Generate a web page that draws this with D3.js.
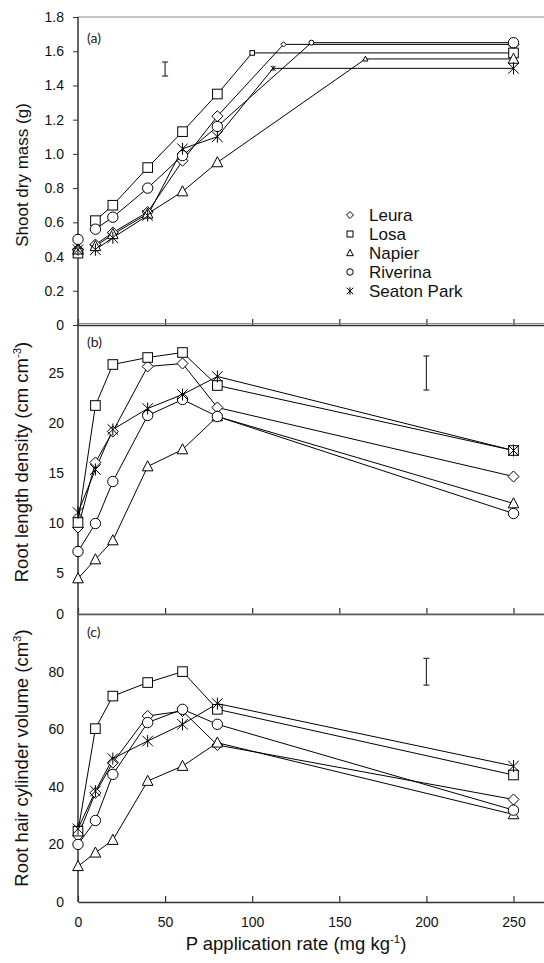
<!DOCTYPE html>
<html lang="en">
<head>
<meta charset="UTF-8">
<title>Cultivar response to P</title>
<script src="https://d3js.org/d3.v7.min.js"></script>
<style>
  html, body {
    margin: 0;
    padding: 0;
    background: #fff;
    overflow: hidden;
  }
  svg {
    display: block;
    font-family: "Liberation Sans", Arial, sans-serif;
  }
</style>
</head>
<body>
<svg width="544" height="963"></svg>
<script>
// ---- data ----
const doses = [0, 10, 20, 40, 60, 80, 250];
const cultivars = ["Leura", "Losa", "Napier", "Riverina", "Seaton Park"];
const shapes = ["diamond", "square", "triangle", "circle", "star"];

// (a) shoot dry mass (g)
const shootLeura    = [0.44, 0.47, 0.54, 0.66, 0.96, 1.22, 1.64];
const shootLosa     = [0.42, 0.61, 0.70, 0.92, 1.13, 1.35, 1.59];
const shootNapier   = [0.44, 0.46, 0.53, 0.65, 0.78, 0.95, 1.555];
const shootRiverina = [0.50, 0.56, 0.63, 0.80, 0.99, 1.16, 1.65];
const shootSeaton   = [0.44, 0.44, 0.51, 0.64, 1.03, 1.10, 1.50];
// break point of the fitted line (P rate where the plateau starts)
const shootBreak    = [118, 100, 165, 134, 112];

// (b) root length density (cm cm-3)
const rldLeura    = [9.6, 16.1, 19.2, 25.7, 26.0, 21.6, 14.7];
const rldLosa     = [10.1, 21.8, 25.9, 26.6, 27.1, 23.8, 17.3];
const rldNapier   = [4.5, 6.4, 8.3, 15.7, 17.4, 20.7, 12.0];
const rldRiverina = [7.2, 10.0, 14.2, 20.8, 22.4, 20.7, 11.0];
const rldSeaton   = [11.1, 15.4, 19.4, 21.5, 22.9, 24.7, 17.3];

// (c) root hair cylinder volume (cm3)
const rhcLeura    = [23.0, 37.9, 48.4, 64.6, 66.3, 54.5, 35.6];
const rhcLosa     = [24.6, 60.2, 71.5, 76.2, 80.0, 66.9, 44.1];
const rhcNapier   = [12.4, 17.1, 21.5, 42.0, 47.2, 55.3, 30.4];
const rhcRiverina = [20.0, 28.3, 44.3, 62.3, 66.9, 61.7, 31.9];
const rhcSeaton   = [25.4, 38.5, 49.8, 55.9, 61.7, 68.9, 47.2];

// LSD bars: P rate, low, high
const lsdX    = [50, 200, 200];
const lsdLow  = [1.455, 23.35, 75.3];
const lsdHigh = [1.537, 26.75, 84.6];

const xTicks = [0, 50, 100, 150, 200, 250];
const shootTicks = [0, 0.2, 0.4, 0.6, 0.8, 1.0, 1.2, 1.4, 1.6, 1.8];
const rldTicks = [5, 10, 15, 20, 25];
const rhcTicks = [0, 20, 40, 60, 80, 100];

// ---- layout ----
const svg = d3.select("svg");
const x = d3.scaleLinear().domain([0, 300]).range([78, 600.6]);
const rightEdge = 544;

const panels = [
  {
    label: "(a)", labelY: 43,
    y: d3.scaleLinear().domain([0, 1.8]).range([325, 17]),
    bottom: 325, ticks: shootTicks, tickLen: 5,
    fmt: d => d === 0 ? "0" : d.toFixed(1),
    series: [shootLeura, shootLosa, shootNapier, shootRiverina, shootSeaton],
    plateau: true,
    title: ["Shoot dry mass (g)"], titleY: 175, titleSize: 17
  },
  {
    label: "(b)", labelY: 347,
    y: d3.scaleLinear().domain([0, 30]).range([623.5, 323.5]),
    bottom: 614, ticks: rldTicks, tickLen: 0,
    fmt: d => d,
    series: [rldLeura, rldLosa, rldNapier, rldRiverina, rldSeaton],
    plateau: false,
    title: ["Root length density (cm cm", "-3", ")"], titleY: 462, titleSize: 18.5
  },
  {
    label: "(c)", labelY: 637,
    y: d3.scaleLinear().domain([0, 100]).range([902, 614]),
    bottom: 902, ticks: rhcTicks, tickLen: 0,
    // only the last digit of "100" shows in the original, the rest sits under panel (b)
    fmt: d => d === 100 ? "0" : d,
    series: [rhcLeura, rhcLosa, rhcNapier, rhcRiverina, rhcSeaton],
    plateau: false,
    title: ["Root hair cylinder volume (cm", "3", ")"], titleY: 758, titleSize: 18.5
  }
];

function marker(sel, shape, s) {
  const stroke = "#000";
  if (shape === "diamond") {
    sel.append("path").attr("d", `M0,${-s * 1.15}L${s * 1.15},0L0,${s * 1.15}L${-s * 1.15},0Z`);
  } else if (shape === "square") {
    sel.append("rect").attr("x", -s).attr("y", -s).attr("width", 2 * s).attr("height", 2 * s);
  } else if (shape === "triangle") {
    sel.append("path").attr("d", `M0,${-s * 1.2}L${s * 1.1},${s * 0.9}L${-s * 1.1},${s * 0.9}Z`);
  } else if (shape === "circle") {
    sel.append("circle").attr("r", s * 1.08);
  } else {
    const a = s * 1.1;
    sel.append("path")
      .attr("d", `M${-a},${-a}L${a},${a}M${-a},${a}L${a},${-a}M0,${-s * 1.25}L0,${s * 1.25}`)
      .attr("fill", "none");
  }
  sel.selectAll("*").attr("stroke", stroke).attr("stroke-width", 1)
    .filter(function () { return this.getAttribute("fill") !== "none"; })
    .attr("fill", "#fff");
}

const line = d3.line();

panels.forEach((p, pi) => {
  const g = svg.append("g");
  const yTop = p.y.range()[1];

  // plot area top border
  g.append("line")
    .attr("x1", 78).attr("x2", rightEdge)
    .attr("y1", yTop).attr("y2", yTop)
    .attr("stroke", "#8a8a8a").attr("stroke-width", 1);

  // x axis, ticks pointing into the plot
  const xAxis = d3.axisBottom(x).tickValues(xTicks).tickSizeInner(-6).tickSizeOuter(0)
    .tickFormat(pi === 2 ? d3.format("d") : "");
  const xa = g.append("g").attr("transform", `translate(0,${p.bottom})`).call(xAxis);
  xa.select(".domain").attr("stroke", "#333").attr("stroke-width", 1.6);
  xa.selectAll(".tick line").attr("stroke", "#333").attr("stroke-width", 1.2);
  xa.selectAll("text").attr("font-size", 14).attr("fill", "#111").attr("dy", "1.6em");

  // y axis
  const yAxis = d3.axisLeft(p.y).tickValues(p.ticks).tickSizeInner(p.tickLen).tickSizeOuter(0)
    .tickFormat(p.fmt).tickPadding(14 - p.tickLen);
  const ya = g.append("g").attr("transform", "translate(78,0)").call(yAxis);
  ya.select(".domain").attr("stroke", "#333").attr("stroke-width", 1.5)
    .attr("d", `M0,${p.bottom}V${yTop}`);
  ya.selectAll(".tick line").attr("stroke", "#333");
  ya.selectAll("text").attr("font-size", 14).attr("fill", "#111");

  // panel letter
  g.append("text").attr("x", 87).attr("y", p.labelY)
    .attr("font-family", "Lato, 'Open Sans', sans-serif").attr("font-size", 14)
    .attr("fill", "#222").text(p.label);

  // y title
  const t = g.append("text")
    .attr("transform", `translate(28,${p.titleY}) rotate(-90)`)
    .attr("text-anchor", "middle")
    .attr("font-size", p.titleSize).attr("fill", "#111");
  t.append("tspan").text(p.title[0]);
  if (p.title.length > 1) {
    t.append("tspan").attr("font-size", p.titleSize * 0.62).attr("dy", -p.titleSize * 0.38).text(p.title[1]);
    t.append("tspan").attr("dy", p.titleSize * 0.38).text(p.title[2]);
  }

  // LSD bar
  const lx = x(lsdX[pi]);
  const lsd = g.append("g").attr("stroke", "#333").attr("stroke-width", 1.2);
  lsd.append("line").attr("x1", lx).attr("x2", lx).attr("y1", p.y(lsdLow[pi])).attr("y2", p.y(lsdHigh[pi]));
  [lsdLow[pi], lsdHigh[pi]].forEach(v => {
    lsd.append("line").attr("x1", lx - 3).attr("x2", lx + 3).attr("y1", p.y(v)).attr("y2", p.y(v));
  });

  // series
  p.series.forEach((vals, si) => {
    let pts;
    if (p.plateau) {
      // fitted line from 10 mg/kg up to the break point, then flat to 250
      const bx = shootBreak[si];
      const plateau = vals[vals.length - 1];
      pts = doses.slice(1, 6).map((d, i) => [x(d), p.y(vals[i + 1])]);
      pts.push([x(bx), p.y(plateau)], [x(250), p.y(plateau)]);
    } else {
      pts = doses.map((d, i) => [x(d), p.y(vals[i])]);
    }
    g.append("path").attr("d", line(pts))
      .attr("fill", "none").attr("stroke", "#000").attr("stroke-width", 1);

    if (p.plateau) {
      const bm = g.append("g")
        .attr("transform", `translate(${x(shootBreak[si])},${p.y(vals[vals.length - 1])})`);
      marker(bm, shapes[si], 2.3);
    }
  });

  p.series.forEach((vals, si) => {
    doses.forEach((d, i) => {
      const m = g.append("g").attr("transform", `translate(${x(d)},${p.y(vals[i])})`);
      marker(m, shapes[si], 4.8);
    });
  });
});

// x title
const xt = svg.append("text").attr("x", 296).attr("y", 950)
  .attr("text-anchor", "middle").attr("font-size", 18.5).attr("fill", "#111");
xt.append("tspan").text("P application rate (mg kg");
xt.append("tspan").attr("font-size", 11.5).attr("dy", -7).text("-1");
xt.append("tspan").attr("dy", 7).text(")");

// legend
const legend = svg.append("g");
cultivars.forEach((c, i) => {
  const ly = 215 + i * 19;
  const m = legend.append("g").attr("transform", `translate(350,${ly})`);
  marker(m, shapes[i], 3);
  legend.append("text").attr("x", 369).attr("y", ly).attr("dy", "0.36em")
    .attr("font-size", 17).attr("fill", "#111").text(c);
});
</script>
</body>
</html>
